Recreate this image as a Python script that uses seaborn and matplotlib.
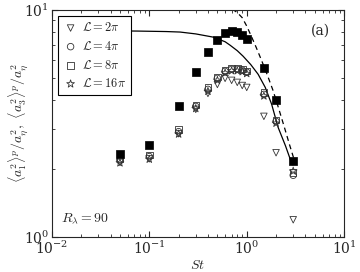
import numpy as np
import pandas as pd
import seaborn as sns
import matplotlib
matplotlib.use("Agg")
import matplotlib.pyplot as plt
from matplotlib.ticker import NullFormatter, LogLocator

# Stokes numbers
st = [0.05, 0.1, 0.2, 0.3, 0.4, 0.5, 0.6, 0.7, 0.8, 0.9, 1.0, 1.5, 2.0, 3.0]

# open symbols
l2pi = [2.13, 2.21, 2.85, 3.65, 4.29, 4.70, 5.00, 4.90, 4.80, 4.65, 4.56, 3.40, 2.35, 1.19]
l4pi = [2.17, 2.26, 2.91, 3.76, 4.47, 5.00, 5.37, 5.48, 5.48, 5.43, 5.32, 4.25, 3.23, 1.87]
l8pi = [2.21, 2.30, 2.97, 3.82, 4.55, 5.08, 5.45, 5.56, 5.55, 5.50, 5.40, 4.33, 3.28, 1.92]
l16pi = [2.12, 2.20, 2.84, 3.68, 4.38, 4.90, 5.28, 5.40, 5.40, 5.35, 5.25, 4.18, 3.17, 1.95]

# filled squares
filled = [2.31, 2.53, 3.76, 5.32, 6.55, 7.36, 7.91, 8.07, 8.00, 7.75, 7.44, 5.54, 4.00, 2.15]

# solid and dashed curves
solid_st = [0.02, 0.075, 0.15, 0.207, 0.3, 0.452, 0.6, 0.675, 0.8, 0.918,
            1.1, 1.31, 1.55, 1.8, 2.1, 2.5, 2.93]
solid_val = [8.12, 8.08, 8.04, 8.00, 7.85, 7.60, 7.25, 7.00, 6.62, 6.26,
             5.75, 5.21, 4.56, 3.85, 3.04, 2.52, 2.08]
dash_st = [0.71, 0.80, 0.90, 1.0, 1.11, 1.25, 1.42, 1.62, 1.87, 2.12, 2.42, 2.75, 3.14]
dash_val = [10.1, 9.75, 9.25, 8.50, 7.70, 6.85, 6.00, 5.20, 4.40, 3.70, 3.07, 2.55, 2.12]

sns.set_style("ticks")
plt.rcParams["font.family"] = ["DejaVu Serif"]
plt.rcParams["mathtext.fontset"] = "cm"
plt.rcParams["font.size"] = 9

fig, ax = plt.subplots(figsize=(3.6, 2.72), dpi=100)
fig.subplots_adjust(left=0.144, right=0.956, bottom=0.129, top=0.963)

sns.lineplot(x=solid_st, y=solid_val, ax=ax, color="black", lw=0.9,
             sort=False, estimator=None)
sns.lineplot(x=dash_st, y=dash_val, ax=ax, color="black", lw=0.9,
             sort=False, estimator=None, linestyle=(0, (4, 3)))

series = [(l2pi, "v", r"$\mathcal{L}=2\pi$"),
          (l4pi, "o", r"$\mathcal{L}=4\pi$"),
          (l8pi, "s", r"$\mathcal{L}=8\pi$"),
          (l16pi, "*", r"$\mathcal{L}=16\pi$")]
for vals, mk, lab in series:
    sz = 34 if mk == "*" else 22
    sns.scatterplot(x=st, y=vals, ax=ax, marker=mk, s=sz, facecolor="none",
                    edgecolor="#333333", linewidth=0.6, label=lab, zorder=3)

sns.scatterplot(x=st, y=filled, ax=ax, marker="s", s=28, color="black",
                edgecolor="black", linewidth=0.5, zorder=4)

ax.set_xscale("log")
ax.set_yscale("log")
ax.set_xlim(1e-2, 1e1)
ax.set_ylim(1, 10)
ax.yaxis.set_minor_locator(LogLocator(base=10, subs=np.arange(2, 10)))
ax.yaxis.set_minor_formatter(NullFormatter())
ax.xaxis.set_minor_formatter(NullFormatter())
ax.tick_params(which="both", direction="in", top=True, right=True, labelsize=10, pad=2)
ax.tick_params(which="major", length=4)
ax.tick_params(which="minor", length=2)
ax.set_xlabel(r"$St$", fontsize=10, labelpad=1)
ax.set_ylabel(r"$\langle a_1^2\rangle^p/a_\eta^2,\ \langle a_3^2\rangle^p/a_\eta^2$",
              fontsize=10)
ax.yaxis.set_label_coords(-0.075, 0.5)

ax.text(0.92, 0.91, "(a)", transform=ax.transAxes, ha="center", va="center",
        fontsize=10, family="DejaVu Serif")
ax.text(0.03, 0.08, r"$R_\lambda=90$", transform=ax.transAxes, ha="left",
        va="center", fontsize=10)

leg = ax.legend(loc="upper left", fontsize=9, frameon=True, fancybox=False,
                edgecolor="black", framealpha=1, handletextpad=0.3,
                borderaxespad=0.5, labelspacing=0.45, handlelength=1.2)
leg.get_frame().set_linewidth(0.8)
leg.set_zorder(10)

fig.savefig("out.png", dpi=100)
